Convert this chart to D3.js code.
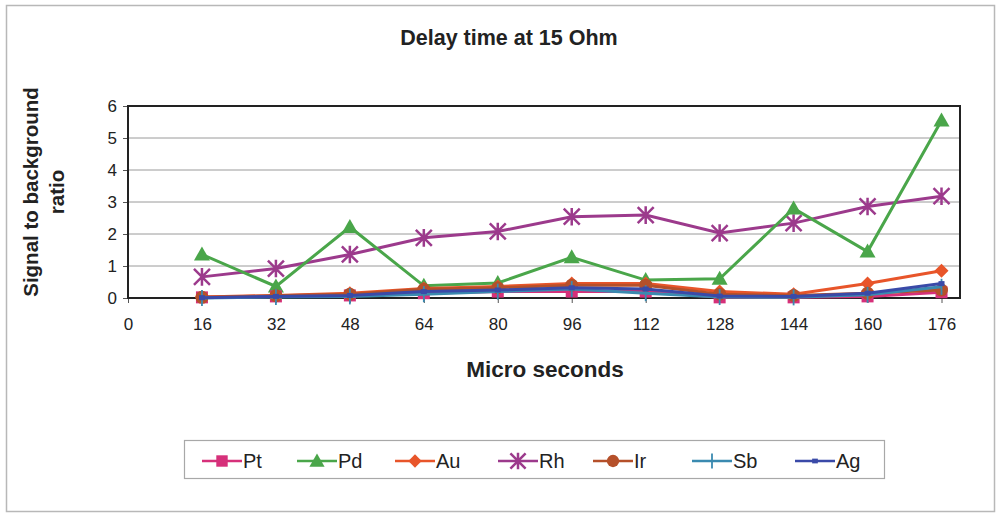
<!DOCTYPE html>
<html>
<head>
<meta charset="utf-8">
<script src="https://cdn.jsdelivr.net/npm/d3@7"></script>
<style>
  html, body { margin: 0; padding: 0; background: #ffffff; }
  svg { display: block; }
  text { font-family: "Liberation Sans", Arial, sans-serif; fill: #222; }
</style>
</head>
<body>
<svg id="chart" width="1000" height="513"></svg>
<script>
// Sampling times (microseconds)
const times = [16, 32, 48, 64, 80, 96, 112, 128, 144, 160, 176];
const xTicks = [0, 16, 32, 48, 64, 80, 96, 112, 128, 144, 160, 176];
const yTicks = [0, 1, 2, 3, 4, 5, 6];

// Signal-to-background ratio per element
const Pt = [0.02, 0.05, 0.08, 0.15, 0.20, 0.20, 0.20, 0.02, 0.02, 0.05, 0.18];
const Pd = [1.36, 0.36, 2.22, 0.38, 0.47, 1.27, 0.56, 0.60, 2.80, 1.45, 5.55];
const Au = [0.03, 0.08, 0.15, 0.30, 0.36, 0.45, 0.45, 0.20, 0.12, 0.45, 0.85];
const Rh = [0.66, 0.92, 1.36, 1.88, 2.08, 2.54, 2.59, 2.03, 2.34, 2.86, 3.18];
const Ir = [0.02, 0.07, 0.12, 0.27, 0.32, 0.40, 0.40, 0.12, 0.08, 0.15, 0.25];
const Sb = [0.00, 0.03, 0.05, 0.12, 0.20, 0.28, 0.15, 0.03, 0.02, 0.10, 0.35];
const Ag = [0.01, 0.05, 0.08, 0.20, 0.25, 0.32, 0.28, 0.06, 0.05, 0.15, 0.45];

const seriesNames = ["Pt", "Pd", "Au", "Rh", "Ir", "Sb", "Ag"];
const seriesValues = { Pt, Pd, Au, Rh, Ir, Sb, Ag };
const seriesColors = {
  Pt: "#d6307a", Pd: "#4aa64a", Au: "#e8552a", Rh: "#9c3a8c",
  Ir: "#b5502a", Sb: "#3a8ab0", Ag: "#3a4aa8"
};
const seriesMarkers = {
  Pt: "square", Pd: "triangle", Au: "diamond", Rh: "asterisk",
  Ir: "circle", Sb: "plus", Ag: "dot"
};
// draw order: low series underneath
const drawOrder = ["Rh", "Pd", "Pt", "Au", "Ir", "Sb", "Ag"];

const svg = d3.select("#chart");

// outer chart frame
svg.append("rect")
  .attr("x", 6.5).attr("y", 5.5).attr("width", 988).attr("height", 506)
  .attr("fill", "#ffffff").attr("stroke", "#b8b8b8").attr("stroke-width", 1.5);

const plot = { left: 128, right: 960, top: 106, bottom: 298 };

const x = d3.scaleLinear().domain([0, 180]).range([plot.left, plot.right]);
const y = d3.scaleLinear().domain([0, 6]).range([plot.bottom, plot.top]);

// gridlines
svg.append("g")
  .selectAll("line")
  .data(yTicks.filter(d => d > 0 && d < 6))
  .join("line")
  .attr("x1", plot.left).attr("x2", plot.right)
  .attr("y1", d => y(d)).attr("y2", d => y(d))
  .attr("stroke", "#9a9a9a").attr("stroke-width", 1);

// y axis
const yAxis = svg.append("g")
  .attr("transform", `translate(${plot.left},0)`)
  .call(d3.axisLeft(y).tickValues(yTicks).tickSize(5).tickPadding(6).tickFormat(d3.format("d")));
yAxis.select(".domain").remove();
yAxis.selectAll("line").attr("stroke", "#555");
yAxis.selectAll("text").attr("font-size", 17).attr("fill", "#222");

// x axis
const xAxis = svg.append("g")
  .attr("transform", `translate(0,${plot.bottom})`)
  .call(d3.axisBottom(x).tickValues(xTicks).tickSize(5).tickPadding(15).tickFormat(d3.format("d")));
xAxis.select(".domain").remove();
xAxis.selectAll("line").attr("stroke", "#555");
xAxis.selectAll("text").attr("font-size", 17).attr("fill", "#222");

// plot frame
svg.append("rect")
  .attr("x", plot.left).attr("y", plot.top)
  .attr("width", plot.right - plot.left).attr("height", plot.bottom - plot.top)
  .attr("fill", "none").attr("stroke", "#222").attr("stroke-width", 2);

// marker drawing
function drawMarker(g, type, color, cx, cy, scale = 1) {
  const s = scale;
  switch (type) {
    case "square":
      g.append("rect").attr("x", cx - 6 * s).attr("y", cy - 6 * s)
        .attr("width", 12 * s).attr("height", 12 * s).attr("fill", color);
      break;
    case "triangle":
      g.append("path").attr("d", `M${cx},${cy - 8 * s}L${cx + 8 * s},${cy + 6 * s}L${cx - 8 * s},${cy + 6 * s}Z`)
        .attr("fill", color);
      break;
    case "diamond":
      g.append("path").attr("d", `M${cx},${cy - 7 * s}L${cx + 7 * s},${cy}L${cx},${cy + 7 * s}L${cx - 7 * s},${cy}Z`)
        .attr("fill", color);
      break;
    case "circle":
      g.append("circle").attr("cx", cx).attr("cy", cy).attr("r", 6.5 * s).attr("fill", color);
      break;
    case "asterisk": {
      const r = 8 * s;
      const p = `M${cx - r},${cy - r}L${cx + r},${cy + r}M${cx + r},${cy - r}L${cx - r},${cy + r}M${cx},${cy - r * 1.1}L${cx},${cy + r * 1.1}`;
      g.append("path").attr("d", p).attr("stroke", color).attr("stroke-width", 2.5).attr("fill", "none");
      break;
    }
    case "plus": {
      const r = 8 * s;
      g.append("path").attr("d", `M${cx},${cy - r}L${cx},${cy + r}`)
        .attr("stroke", color).attr("stroke-width", 1.8);
      break;
    }
    case "dot":
      g.append("rect").attr("x", cx - 3 * s).attr("y", cy - 2.5 * s)
        .attr("width", 6 * s).attr("height", 5 * s).attr("fill", color);
      break;
  }
}

// series lines and markers
const line = d3.line().x((d, i) => x(times[i])).y(d => y(d));
drawOrder.forEach(name => {
  const vals = seriesValues[name];
  const color = seriesColors[name];
  const g = svg.append("g");
  g.append("path").datum(vals).attr("d", line)
    .attr("fill", "none").attr("stroke", color).attr("stroke-width", 3);
  vals.forEach((v, i) => drawMarker(g, seriesMarkers[name], color, x(times[i]), y(v)));
});

// title
svg.append("text")
  .attr("x", 509).attr("y", 45).attr("text-anchor", "middle")
  .attr("font-size", 21.5).attr("font-weight", "bold")
  .text("Delay time at 15 Ohm");

// y-axis title (two lines)
const yTitle = svg.append("text")
  .attr("transform", "translate(38,192) rotate(-90)")
  .attr("text-anchor", "middle").attr("font-size", 20.5).attr("font-weight", "bold");
yTitle.append("tspan").attr("x", 0).attr("dy", 0).text("Signal to background");
yTitle.append("tspan").attr("x", 0).attr("dy", 26).text("ratio");

// x-axis title
svg.append("text")
  .attr("x", 545).attr("y", 377).attr("text-anchor", "middle")
  .attr("font-size", 22.5).attr("font-weight", "bold")
  .text("Micro seconds");

// legend
const legend = svg.append("g");
legend.append("rect")
  .attr("x", 184.5).attr("y", 440.5).attr("width", 700).attr("height", 38)
  .attr("fill", "#ffffff").attr("stroke", "#a8a8a8").attr("stroke-width", 1.2);
const legendX = [222, 317, 415, 518, 613, 712, 815];
seriesNames.forEach((name, i) => {
  const cx = legendX[i];
  const color = seriesColors[name];
  const cy = 461;
  legend.append("line").attr("x1", cx - 20).attr("x2", cx + 20)
    .attr("y1", cy).attr("y2", cy).attr("stroke", color).attr("stroke-width", 2.5);
  drawMarker(legend, seriesMarkers[name], color, cx, cy, 0.95);
  legend.append("text").attr("x", cx + 21).attr("y", cy + 7)
    .attr("font-size", 20).text(name);
});
</script>
</body>
</html>
